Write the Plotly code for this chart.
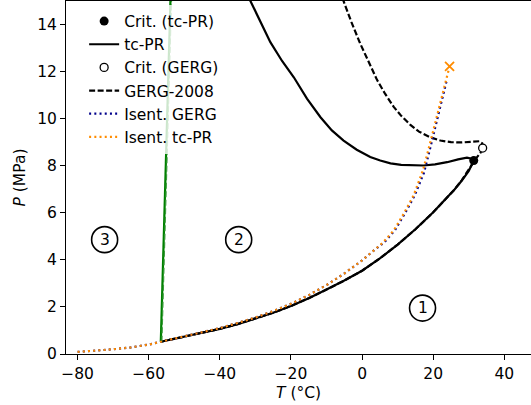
import plotly.graph_objects as go

# ---------------- data ----------------
# tc-PR phase envelope (lower branch: triple point -> critical point)
tcpr_low_T = [-56.6, -50, -45, -40, -35, -30, -25, -20, -15, -10, -5, 0, 5, 10, 15, 20, 22, 24, 26, 28, 30, 31.4]
tcpr_low_P = [0.52, 0.74, 0.90, 1.07, 1.27, 1.50, 1.75, 2.04, 2.37, 2.74, 3.12, 3.54, 4.06, 4.65, 5.30, 6.02, 6.33, 6.65, 6.99, 7.36, 7.78, 8.22]
# tc-PR upper branch (critical point -> high pressure)
tcpr_up_T = [31.4, 30.8, 29.5, 27, 23.9, 20.5, 17.3, 14, 11, 8, 5.1, 2.3, -1.5, -5.2, -8.5, -11.7, -15.5, -19.2, -22.5, -25.8, -28.6, -31.4, -32.5]
tcpr_up_P = [8.22, 8.30, 8.34, 8.27, 8.15, 8.06, 8.01, 8.01, 8.04, 8.10, 8.22, 8.37, 8.68, 9.07, 9.50, 10.06, 10.85, 11.76, 12.45, 13.25, 14.1, 15.0, 15.4]

# GERG-2008 phase envelope
gerg_low_T = [-56.6, -50, -45, -40, -35, -30, -25, -20, -15, -10, -5, 0, 5, 10, 15, 20, 22, 24, 26, 28, 30, 32, 33.3, 33.9]
gerg_low_P = [0.52, 0.74, 0.90, 1.07, 1.27, 1.50, 1.75, 2.04, 2.37, 2.74, 3.12, 3.54, 4.06, 4.65, 5.30, 6.02, 6.33, 6.65, 6.99, 7.38, 7.85, 8.30, 8.55, 8.75]
gerg_up_T = [33.9, 33.8, 33.0, 31, 28, 25, 22, 19, 16, 13.5, 11, 8.9, 6.5, 4.2, 2, -0.5, -3, -5.3, -6.2]
gerg_up_P = [8.75, 8.95, 9.04, 9.02, 8.99, 9.00, 9.07, 9.22, 9.45, 9.75, 10.12, 10.50, 11.05, 11.65, 12.35, 13.18, 14.1, 15.0, 15.4]

# Melting lines
melt_T = [-56.6, -55.2, -53.8]
melt_P = [0.52, 8.0, 15.5]
melt_gerg_T = [-56.3, -54.9, -53.5]
melt_gerg_P = [0.52, 8.0, 15.5]

# Isentropes
isen_tc_T = [-80, -75, -70, -65, -60, -56.6, -50, -45, -40, -35, -30, -25, -20, -15, -10, -5, 0, 3, 5.9, 8.9, 11.7, 14.5, 17.1, 18.6, 20.6, 22.4, 23.6, 24.6]
isen_tc_P = [0.09, 0.14, 0.20, 0.28, 0.40, 0.52, 0.75, 0.92, 1.10, 1.32, 1.55, 1.82, 2.13, 2.50, 2.93, 3.42, 3.98, 4.36, 4.74, 5.25, 5.96, 6.74, 7.80, 8.65, 9.85, 10.95, 11.65, 12.22]
isen_gerg_T = [-80, -75, -70, -65, -60, -56.6, -50, -45, -40, -35, -30, -25, -20, -15, -10, -5, 0, 3, 6.2, 9.2, 12.0, 14.8, 17.4, 19.0, 21.1, 22.9, 23.9]
isen_gerg_P = [0.09, 0.14, 0.20, 0.28, 0.40, 0.52, 0.75, 0.92, 1.10, 1.32, 1.55, 1.82, 2.13, 2.50, 2.93, 3.42, 3.98, 4.36, 4.74, 5.25, 5.96, 6.74, 7.70, 8.65, 9.92, 11.06, 11.69]

# Critical points & isentrope end
crit_tc = (31.4, 8.22)
crit_gerg = (33.9, 8.75)
isen_end = (24.6, 12.22)

# Region labels
region_labels = ["1", "2", "3"]
region_T = [17.0, -34.7, -72.4]
region_P = [1.95, 4.86, 4.86]

FONT = "DejaVu Sans"
FS = 15.5
BLUE = "#00008B"
ORANGE = "#FF8C00"
GREEN = "#008000"
LW = 2.2

fig = go.Figure()

# black solid tc-PR
fig.add_trace(go.Scatter(x=tcpr_low_T, y=tcpr_low_P, mode="lines", line=dict(color="black", width=LW),
                         name="tc-PR", legendgroup="b", legendrank=2))
fig.add_trace(go.Scatter(x=tcpr_up_T, y=tcpr_up_P, mode="lines", line=dict(color="black", width=LW),
                         showlegend=False))
# GERG dashed
fig.add_trace(go.Scatter(x=gerg_low_T, y=gerg_low_P, mode="lines",
                         line=dict(color="black", width=LW, dash="6px,2.5px"),
                         name="GERG-2008", legendgroup="d", legendrank=4))
fig.add_trace(go.Scatter(x=gerg_up_T, y=gerg_up_P, mode="lines",
                         line=dict(color="black", width=LW, dash="6px,2.5px"), showlegend=False))
# melting lines
fig.add_trace(go.Scatter(x=melt_T, y=melt_P, mode="lines", line=dict(color=GREEN, width=LW), showlegend=False))
fig.add_trace(go.Scatter(x=melt_gerg_T, y=melt_gerg_P, mode="lines",
                         line=dict(color="#3a9a3a", width=1.2, dash="6px,2.5px"), showlegend=False))
# isentropes
fig.add_trace(go.Scatter(x=isen_gerg_T, y=isen_gerg_P, mode="lines",
                         line=dict(color=BLUE, width=LW, dash="2px,3.2px"),
                         name="Isent. GERG", legendgroup="e", legendrank=5))
fig.add_trace(go.Scatter(x=isen_tc_T, y=isen_tc_P, mode="lines",
                         line=dict(color=ORANGE, width=LW, dash="2px,3.2px"),
                         name="Isent. tc-PR", legendgroup="f", legendrank=6))
# markers
fig.add_trace(go.Scatter(x=[crit_tc[0]], y=[crit_tc[1]], mode="markers",
                         marker=dict(color="black", size=9),
                         name="Crit. (tc-PR)", legendgroup="a", legendrank=1))
fig.add_trace(go.Scatter(x=[crit_gerg[0]], y=[crit_gerg[1]], mode="markers",
                         marker=dict(color="white", size=8, line=dict(color="black", width=1.3)),
                         name="Crit. (GERG)", legendgroup="c", legendrank=3))
fig.add_trace(go.Scatter(x=[isen_end[0]], y=[isen_end[1]], mode="markers",
                         marker=dict(symbol="x-thin", size=9, line=dict(color=ORANGE, width=1.8)),
                         showlegend=False))

# region labels in circles
for lab, t, p in zip(region_labels, region_T, region_P):
    fig.add_shape(type="circle", xref="x", yref="y", xsizemode="pixel", ysizemode="pixel",
                  xanchor=t, yanchor=p, x0=-13, x1=13, y0=-13, y1=13,
                  line=dict(color="black", width=1.6))
    fig.add_annotation(x=t, y=p, xref="x", yref="y", text=lab, showarrow=False,
                       font=dict(family=FONT, size=FS, color="black"))

# axis titles as annotations
fig.add_annotation(x=-0.099, y=0.5, xref="paper", yref="paper", text="<i>P</i> (MPa)",
                   textangle=-90, showarrow=False, xanchor="center", yanchor="middle",
                   font=dict(family=FONT, size=FS, color="black"))
fig.add_annotation(x=0.5, y=-0.11, xref="paper", yref="paper", text="<i>T</i> (°C)",
                   showarrow=False, xanchor="center", yanchor="middle",
                   font=dict(family=FONT, size=FS, color="black"))

fig.update_layout(
    width=531, height=405,
    margin=dict(l=66, r=0, t=1, b=51, autoexpand=False),
    paper_bgcolor="white", plot_bgcolor="white",
    font=dict(family=FONT, size=FS, color="black"),
    showlegend=True,
    legend=dict(x=0.039, y=0.99, xanchor="left", yanchor="top",
                bgcolor="rgba(255,255,255,0.8)", borderwidth=0,
                tracegroupgap=0, font=dict(family=FONT, size=FS, color="black")),
    xaxis=dict(range=[-83.26, 47.5], tickvals=[-80, -60, -40, -20, 0, 20, 40],
               showgrid=False, zeroline=False, showline=True, linecolor="black", linewidth=1,
               mirror=True, ticks="outside", ticklen=5, tickwidth=1, tickcolor="black",
               automargin=False,
               tickfont=dict(family=FONT, size=FS, color="black")),
    yaxis=dict(range=[0, 15], tickvals=[0, 2, 4, 6, 8, 10, 12, 14],
               showgrid=False, zeroline=False, showline=True, linecolor="black", linewidth=1,
               ticks="outside", ticklen=5, tickwidth=1, tickcolor="black",
               automargin=False,
               tickfont=dict(family=FONT, size=FS, color="black")),
)

fig.write_html("out.html", config={"displayModeBar": False},
               post_script="document.body.style.margin='0px';document.body.style.overflow='hidden';")
